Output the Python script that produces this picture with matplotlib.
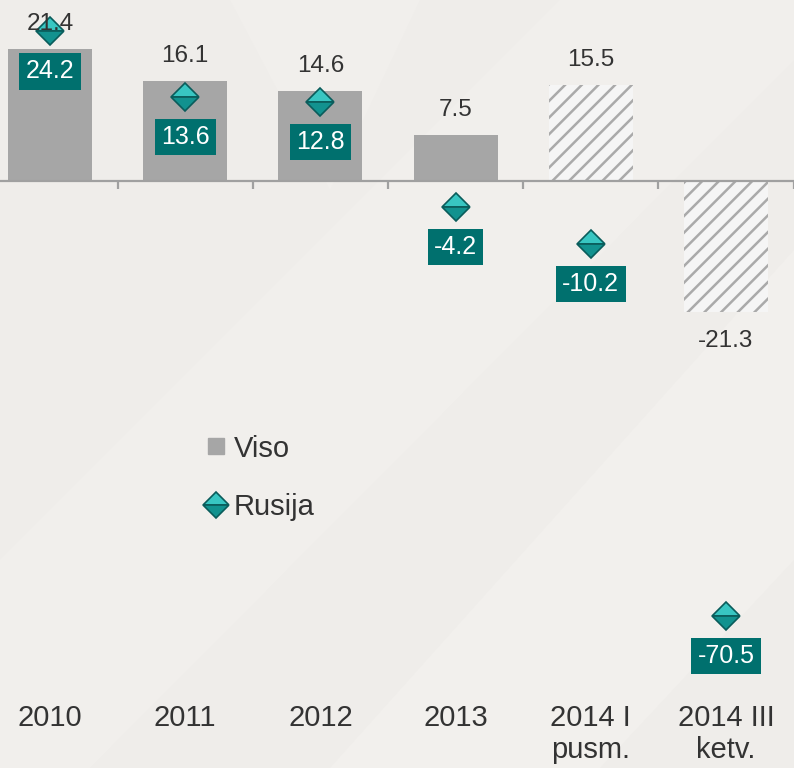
import matplotlib.pyplot as plt
from matplotlib.lines import Line2D
from matplotlib.patches import Polygon
import numpy as np

plt.rcParams['font.family'] = ['Liberation Sans', 'DejaVu Sans']
plt.rcParams['hatch.linewidth'] = 1.8

# data
categories = ['2010', '2011', '2012', '2013', '2014 I\npusm.', '2014 III\nketv.']
viso = [21.4, 16.1, 14.6, 7.5, 15.5, -21.3]
rusija = [24.2, 13.6, 12.8, -4.2, -10.2, -70.5]
hatched = [False, False, False, False, True, True]

bar_gray = '#a6a6a6'
teal_box = '#00706e'
teal_top = '#38c6c2'
teal_bot = '#12928f'
teal_dark = '#0a5c5b'
text_col = '#333333'
bg = '#efedea'

W, H = 794, 768
fig = plt.figure(figsize=(W / 100, H / 100), dpi=100)
fig.patch.set_facecolor(bg)

# faint diagonal texture in the background
bgax = fig.add_axes([0, 0, 1, 1], zorder=-5)
bgax.set_xlim(0, W)
bgax.set_ylim(H, 0)
bgax.axis('off')
bgax.add_patch(Polygon([(0, 560), (560, 0), (794, 0), (794, 60), (90, 768), (0, 768)],
                       closed=True, color='#f1efec', lw=0))
bgax.add_patch(Polygon([(330, 768), (794, 250), (794, 560), (600, 768)],
                       closed=True, color='#f2f0ed', lw=0))
bgax.add_patch(Polygon([(230, 0), (420, 0), (330, 190)],
                       closed=True, color='#f1efec', lw=0))

# main axes: category i sits at centre, spacing 135 px
left_px, right_px = -17.6, 793.6
ax = fig.add_axes([left_px / W, 0, (right_px - left_px) / W, 1])
ax.set_facecolor('none')
x = np.arange(len(categories))
ax.set_xlim(-0.5, len(categories) - 0.5)
ax.set_ylim(-95.1, 29.3)

for i, (v, h) in enumerate(zip(viso, hatched)):
    if h:
        ax.bar(i, v, width=0.62, color='#f5f5f5', edgecolor='#aaaaaa', hatch='//', linewidth=0, zorder=2)
    else:
        ax.bar(i, v, width=0.62, color=bar_gray, linewidth=0, zorder=2)
    off = 25 if v > 0 else -29
    ax.annotate(f'{v:.1f}', (i, v), xytext=(0, off * 0.72), textcoords='offset points',
                ha='center', va='center', fontsize=17.5, color=text_col, zorder=5)

ax.plot(x, rusija, linestyle='none', marker='D', markersize=14, fillstyle='top',
        markerfacecolor=teal_top, markerfacecoloralt=teal_bot,
        markeredgecolor=teal_dark, markeredgewidth=1.2, zorder=4)

for i, r in enumerate(rusija):
    ax.annotate(f'{r:.1f}', (i, r), xytext=(0, -40 * 0.72), textcoords='offset points',
                ha='center', va='center', fontsize=18, color='white', zorder=6,
                bbox=dict(boxstyle='square,pad=0.25', facecolor=teal_box, edgecolor='none'))

# axis at zero
for s in ['top', 'right', 'left']:
    ax.spines[s].set_visible(False)
ax.spines['bottom'].set_position(('data', 0))
ax.spines['bottom'].set_color('#a0a0a0')
ax.spines['bottom'].set_linewidth(1.6)
ax.spines['bottom'].set_zorder(3)
ax.set_yticks([])
ax.set_xticks(np.arange(len(categories) + 1) - 0.5)
ax.set_xticklabels([])
ax.tick_params(axis='x', direction='out', length=6, width=1.6, color='#a0a0a0')

for i, c in enumerate(categories):
    ax.text(i, 1 - 704 / H, c, transform=ax.get_xaxis_transform(), ha='center', va='top',
            fontsize=21, color=text_col, linespacing=1.2)

handles = [Line2D([], [], linestyle='none', marker='s', markersize=11.5, color=bar_gray),
           Line2D([], [], linestyle='none', marker='D', markersize=13, fillstyle='top',
                  markerfacecolor=teal_top, markerfacecoloralt=teal_bot,
                  markeredgecolor=teal_dark, markeredgewidth=1.2)]
fig.legend(handles, ['Viso', 'Rusija'], loc='upper left', bbox_to_anchor=(190 / W, 1 - 420 / H),
           frameon=False, fontsize=21, handlelength=0.8, handletextpad=0.2, labelspacing=1.05,
           borderpad=0, labelcolor=text_col)

fig.savefig('out.png', dpi=100, facecolor=bg)
